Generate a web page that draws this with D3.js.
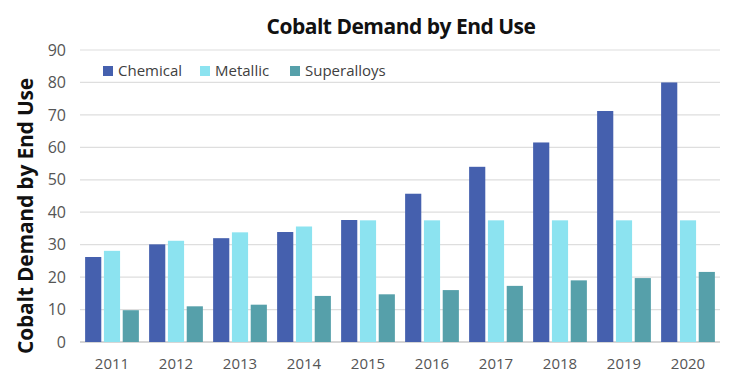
<!DOCTYPE html>
<html>
<head>
<meta charset="utf-8">
<script src="https://cdn.jsdelivr.net/npm/d3@7"></script>
<style>
  body { margin: 0; background: #fff; }
  svg { display: block; font-family: "Open Sans", sans-serif; }
</style>
</head>
<body>
<div id="chart"></div>
<script>
const width = 750;
const height = 383;

const years = ["2011", "2012", "2013", "2014", "2015", "2016", "2017", "2018", "2019", "2020"];
const seriesNames = ["Chemical", "Metallic", "Superalloys"];
const chemical = [26.2, 30.1, 32.0, 33.9, 37.6, 45.7, 54.0, 61.5, 71.2, 80.0];
const metallic = [28.1, 31.2, 33.8, 35.6, 37.5, 37.5, 37.5, 37.5, 37.5, 37.5];
const superalloys = [9.8, 11.0, 11.5, 14.2, 14.7, 16.0, 17.3, 19.0, 19.7, 21.6];
const yTicks = [0, 10, 20, 30, 40, 50, 60, 70, 80, 90];

const colors = ["#4560ae", "#8ce3f0", "#56a0aa"];
const seriesValues = [chemical, metallic, superalloys];

const margin = { top: 50, right: 30, bottom: 41, left: 80 };

const svg = d3.select("#chart")
    .append("svg")
    .attr("width", width)
    .attr("height", height);

const x = d3.scaleBand()
    .domain(years)
    .range([margin.left, width - margin.right])
    .paddingInner(0.16)
    .paddingOuter(0.08);

const x1 = d3.scaleBand()
    .domain(seriesNames)
    .range([0, x.bandwidth()])
    .paddingInner(0.14);

const y = d3.scaleLinear()
    .domain([0, 90])
    .range([height - margin.bottom, margin.top]);

// grid lines
svg.append("g")
    .selectAll("line")
    .data(yTicks)
    .enter()
    .append("line")
    .attr("x1", margin.left)
    .attr("x2", width - margin.right)
    .attr("y1", d => y(d))
    .attr("y2", d => y(d))
    .attr("stroke", d => d === 0 ? "#c8c8c8" : "#dedede")
    .attr("stroke-width", d => d === 0 ? 1.5 : 1.2);

// y axis labels
const yAxis = svg.append("g")
    .attr("transform", `translate(${margin.left - 14},0)`)
    .call(d3.axisLeft(y).tickValues(yTicks).tickSize(0).tickPadding(0));
yAxis.select(".domain").remove();
yAxis.selectAll("text")
    .attr("font-size", 16)
    .attr("font-family", "Open Sans, sans-serif")
    .attr("fill", "#555");

// x axis labels
const xAxis = svg.append("g")
    .attr("transform", `translate(0,${height - margin.bottom})`)
    .call(d3.axisBottom(x).tickSize(0).tickPadding(16));
xAxis.select(".domain").remove();
xAxis.selectAll("text")
    .attr("font-size", 15)
    .attr("font-family", "Open Sans, sans-serif")
    .attr("fill", "#555");

// bars
const groups = svg.append("g")
    .selectAll("g")
    .data(years)
    .enter()
    .append("g")
    .attr("transform", d => `translate(${x(d)},0)`);

groups.selectAll("rect")
    .data((d, i) => seriesNames.map((s, j) => ({ key: s, value: seriesValues[j][i], color: colors[j] })))
    .enter()
    .append("rect")
    .attr("x", d => x1(d.key))
    .attr("width", x1.bandwidth())
    .attr("y", d => y(d.value))
    .attr("height", d => y(0) - y(d.value))
    .attr("fill", d => d.color);

// legend
const legendX = [103, 200, 290];
const legend = svg.append("g")
    .selectAll("g")
    .data(seriesNames)
    .enter()
    .append("g")
    .attr("transform", (d, i) => `translate(${legendX[i]},66)`);

legend.append("rect")
    .attr("width", 10)
    .attr("height", 10)
    .attr("fill", (d, i) => colors[i]);

legend.append("text")
    .attr("x", 15)
    .attr("y", 10)
    .attr("font-size", 15)
    .attr("fill", "#404040")
    .text(d => d);

// title
svg.append("text")
    .attr("x", 401)
    .attr("y", 34)
    .attr("text-anchor", "middle")
    .attr("font-size", 21)
    .attr("font-weight", "bold")
    .attr("letter-spacing", -0.5)
    .attr("fill", "#111")
    .text("Cobalt Demand by End Use");

// y axis title
svg.append("text")
    .attr("transform", "translate(33,216) rotate(-90)")
    .attr("text-anchor", "middle")
    .attr("font-size", 21)
    .attr("font-weight", "bold")
    .attr("letter-spacing", -0.2)
    .attr("fill", "#111")
    .text("Cobalt Demand by End Use");
</script>
</body>
</html>
